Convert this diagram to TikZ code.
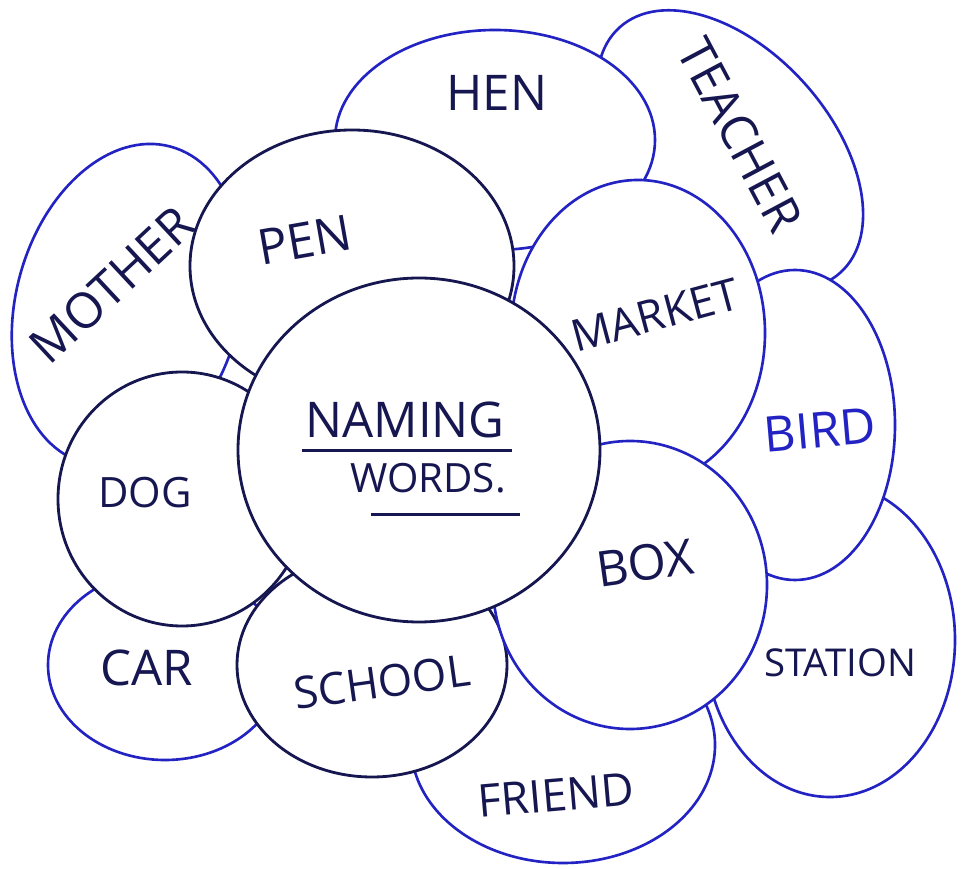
\documentclass[tikz,border=0pt]{standalone}
\usepackage{fontspec}
\setmainfont{Open Sans}
\usetikzlibrary{positioning}
\definecolor{inkblue}{RGB}{35,35,195}
\definecolor{inknavy}{RGB}{22,22,80}

\begin{document}
\begin{tikzpicture}[x=0.02cm,y=0.02cm]
        \tikzstyle{bubble}=[line width=1.5pt,draw=inkblue,fill=white]
        \tikzstyle{inner}=[line width=1.6pt,draw=inknavy,fill=white]
        \tikzstyle{word}=[text=inknavy,font=\fontsize{28}{34}\selectfont,inner sep=0pt]
        \useasboundingbox (0,0) rectangle (964,869);

        % outer ring
        \draw [bubble] (730,719) ellipse [x radius=165, y radius=100, rotate=-48]; %teacher
        \draw [bubble] (495,729) ellipse [x radius=160, y radius=110];            %hen
        \draw [bubble] (128,564) ellipse [x radius=112, y radius=164, rotate=-15]; %mother
        \draw [bubble] (830,229) ellipse [x radius=125, y radius=157];            %station
        \draw [bubble] (795,444) ellipse [x radius=100, y radius=155];            %bird
        \draw [bubble] (165,204) ellipse [x radius=117, y radius=95];             %car
        \draw [bubble] (563,124) ellipse [x radius=152, y radius=118];            %friend

        % inner ring
        \draw [inner] (352,603) ellipse [x radius=162, y radius=136];             %pen
        \draw [bubble] (638,536) ellipse [x radius=127, y radius=153];            %market
        \draw [inner] (182,370) ellipse [x radius=124, y radius=127];             %dog
        \draw [inner] (372,204) ellipse [x radius=135, y radius=112];             %school
        \draw [bubble] (630,284) ellipse [x radius=137, y radius=144];            %box
        \draw [inner] (419,419) ellipse [x radius=181, y radius=172];             %centre

        \node [word] (hen) at (497,776) {HEN};
        \node [word, rotate=-62] (teacher) at (740,734) {TEACHER};
        \node [word, rotate=43] (mother) at (112,584) {MOTHER};
        \node [word, rotate=10] (pen) at (305,629) {PEN};
        \node [word, rotate=15, scale=0.9] (market) at (655,554) {MARKET};
        \node [word, text=inkblue, rotate=5] (bird) at (820,439) {BIRD};
        \node [word, scale=0.85] (dog) at (145,376) {DOG};
        \node [word, rotate=8] (box) at (645,306) {BOX};
        \node [word] (car) at (147,201) {CAR};
        \node [word, rotate=8, scale=0.9] (school) at (382,187) {SCHOOL};
        \node [word, scale=0.78] (station) at (840,206) {STATION};
        \node [word, rotate=5, scale=0.92] (friend) at (556,74) {FRIEND};

        \node [word] (naming) at (405,449) {NAMING};
        \node [word, scale=0.82] (words) at (428,391) {WORDS.};
        \draw [inknavy, line width=2pt] ([xshift=-2pt,yshift=-7pt]naming.south west) -- ([xshift=4pt,yshift=-7pt]naming.south east); %underline
        \draw [inknavy, line width=2pt] ([xshift=12pt,yshift=-12pt]words.south west) -- ([xshift=8pt,yshift=-12pt]words.south east);
\end{tikzpicture}
\end{document}
